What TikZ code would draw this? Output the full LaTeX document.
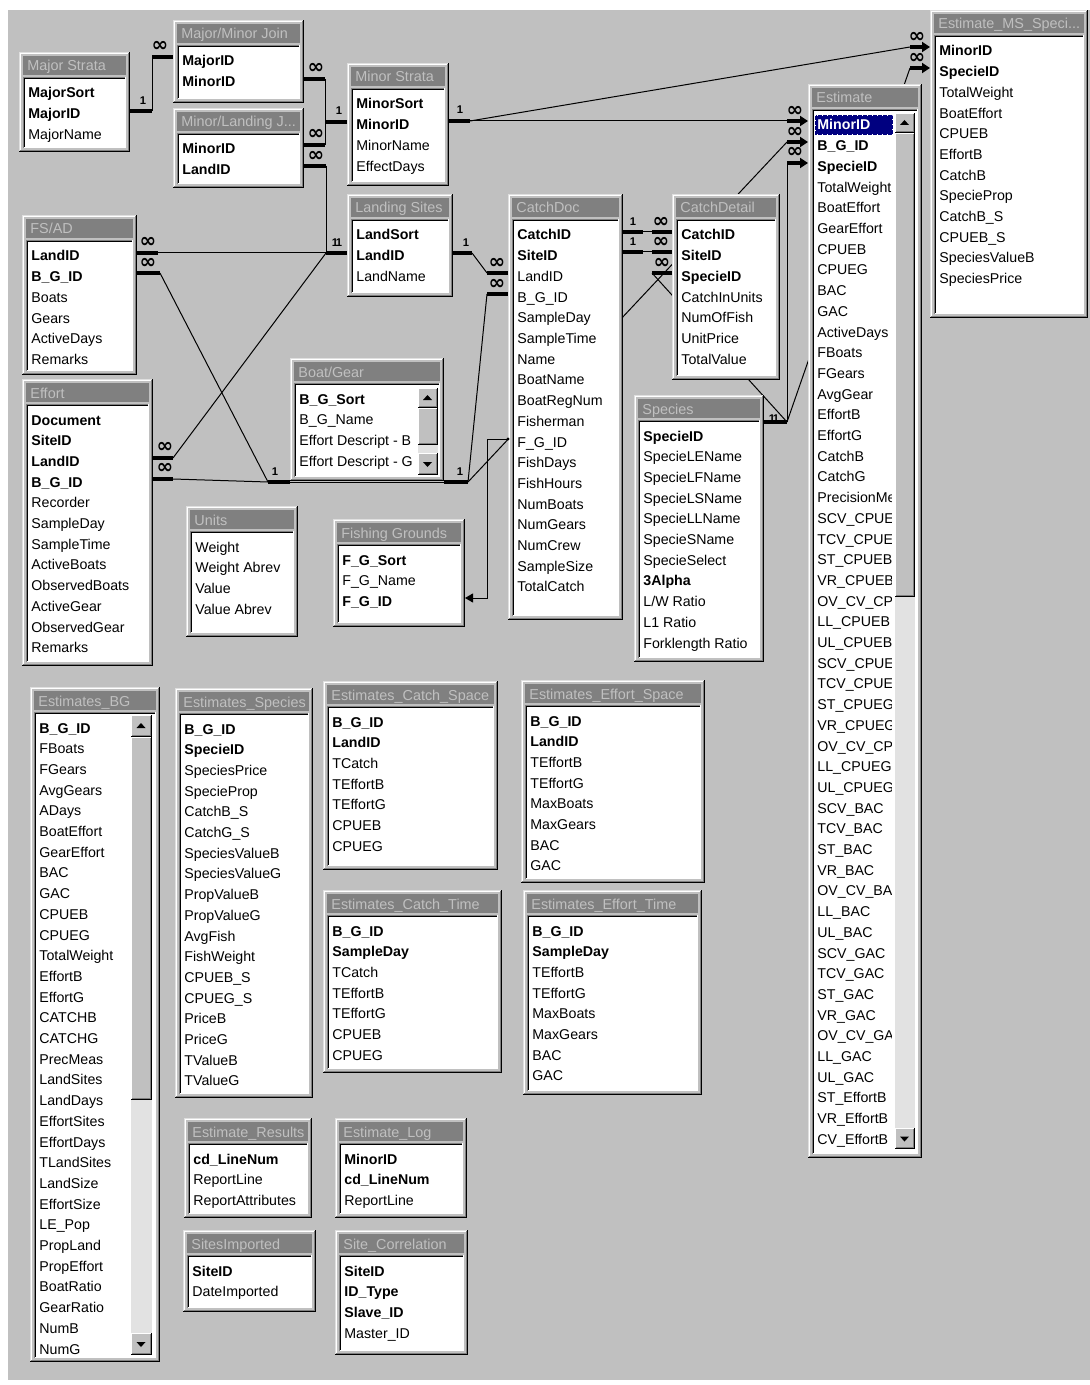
\documentclass[tikz,border=0pt]{standalone}
\usepackage{fontspec}
\setmainfont{Liberation Sans}
\newfontfamily\symfont{DejaVu Sans}
\usetikzlibrary{arrows.meta}
\definecolor{bggray}{RGB}{192,192,192}
\definecolor{wdark}{RGB}{128,128,128}
\definecolor{wlight}{RGB}{223,223,223}
\definecolor{selnavy}{RGB}{0,0,128}
\definecolor{trackgray}{RGB}{226,226,226}
\tikzset{
  field/.style={anchor=base west, inner sep=0pt, font=\fontsize{7.1}{8}\selectfont},
  wtitle/.style={anchor=base west, inner sep=0pt, text=bggray, font=\fontsize{7.2}{8}\selectfont},
  conn/.style={line width=0.5pt},
  stub/.style={line width=1.8pt},
  arr/.style={line width=1.8pt, -{Triangle[length=4pt,width=5pt]}},
  one/.style={font=\fontsize{5.6}{6}\selectfont\bfseries, inner sep=0pt},
  many/.style={font=\symfont\fontsize{10}{10}\selectfont\bfseries, inner sep=0pt},
}
% window frame: name, x1, y1, x2, y2, title
\newcommand\accwin[6]{%
  \fill[bggray] (#2,#3) rectangle (#4,#5);
  \draw[wlight,line width=0.5pt] (#2+0.5,#5-1) -- (#2+0.5,#3+0.5) -- (#4-1,#3+0.5);
  \draw[white,line width=0.5pt] (#2+1.5,#5-2) -- (#2+1.5,#3+1.5) -- (#4-2,#3+1.5);
  \draw[black,line width=0.5pt] (#2,#5-0.5) -- (#4-0.5,#5-0.5) -- (#4-0.5,#3);
  \draw[wdark,line width=0.5pt] (#2+1,#5-1.5) -- (#4-1.5,#5-1.5) -- (#4-1.5,#3+1);
  \fill[wdark] (#2+4,#3+4) rectangle (#4-4,#3+23);
  \node[wtitle] (#1-title) at (#2+8,#3+19) {#6};
  \fill[white] (#2+4,#3+25) rectangle (#4-4,#5-4);
  \draw[wdark,line width=0.5pt] (#2+4.5,#5-4) -- (#2+4.5,#3+25.5) -- (#4-4,#3+25.5);
  \draw[black,line width=0.5pt] (#2+5.5,#5-5) -- (#2+5.5,#3+26.5) -- (#4-5,#3+26.5);
  \draw[white,line width=0.5pt] (#2+4.5,#5-4.5) -- (#4-4.5,#5-4.5) -- (#4-4.5,#3+25);
}
% field rows: name, x1, y1, clip x, clip y, list
\newcommand\accfields[6]{%
  \begin{scope}
    \clip (#2+6,#3+27) rectangle (#4,#5);
    \foreach \fld [count=\rowi] in {#6} {\node[field] (#1-\rowi) at ({#2+9},{#3+46+(\rowi-1)*20.7}) {\fld};}
  \end{scope}}
\newcommand\acctable[8]{\accwin{#1}{#2}{#3}{#4}{#5}{#6}\accfields{#1}{#2}{#3}{#7}{#5-6}{#8}}
% raised button: x1 y1 x2 y2
\newcommand\accbtn[4]{%
  \fill[bggray] (#1,#2) rectangle (#3,#4);
  \draw[white,line width=0.5pt] (#1+0.5,#4-1) -- (#1+0.5,#2+0.5) -- (#3-1,#2+0.5);
  \draw[black,line width=0.5pt] (#1,#4-0.5) -- (#3-0.5,#4-0.5) -- (#3-0.5,#2);
  \draw[wdark,line width=0.5pt] (#1+1,#4-1.5) -- (#3-1.5,#4-1.5) -- (#3-1.5,#2+1);
}
% scrollbar: x1 x2 ytop upbot thumbbot downtop ybot
\newcommand\accscroll[7]{%
  \fill[trackgray] (#1,#3) rectangle (#2,#7);
  \accbtn{#1}{#3}{#2}{#4}
  \fill[black] ({(#1+#2)/2-0.5},{(#3+#4)/2-3}) -- ({(#1+#2)/2-5},{(#3+#4)/2+2}) -- ({(#1+#2)/2+4},{(#3+#4)/2+2}) -- cycle;
  \accbtn{#1}{#4}{#2}{#5}
  \accbtn{#1}{#6}{#2}{#7}
  \fill[black] ({(#1+#2)/2-0.5},{(#6+#7)/2+3}) -- ({(#1+#2)/2-5},{(#6+#7)/2-2}) -- ({(#1+#2)/2+4},{(#6+#7)/2-2}) -- cycle;
}
\begin{document}
\begin{tikzpicture}[x=0.5pt,y=-0.5pt]
\useasboundingbox (0,0) rectangle (1090,1385);
\fill[white] (0,0) rectangle (1090,1385);
\fill[bggray] (8,10) rectangle (1090,1380);

% ---------- connector end points ----------
\coordinate (p-ms-majorid) at (130,111);
\coordinate (q-ms) at (152,111);
\coordinate (q-mmj-a) at (152,57);
\coordinate (p-mmj-majorid) at (173,57);
\coordinate (p-mmj-minorid) at (304,79);
\coordinate (q-mmj-b) at (325,79);
\coordinate (p-mlj-minorid) at (304,145);
\coordinate (q-mlj-a) at (325,145);
\coordinate (q-mis-l) at (325,122);
\coordinate (p-mis-minorid-l) at (347,122);
\coordinate (p-mlj-landid) at (304,166);
\coordinate (q-mlj-b) at (326,166);
\coordinate (q-ls-l) at (326,253);
\coordinate (p-ls-landid-l) at (347,253);
\coordinate (p-fsad-landid) at (137,253);
\coordinate (q-fsad-a) at (158,253);
\coordinate (p-fsad-bgid) at (137,273);
\coordinate (q-fsad-b) at (160,273);
\coordinate (p-eff-landid) at (153,458);
\coordinate (q-eff-a) at (173,458);
\coordinate (p-eff-bgid) at (153,479);
\coordinate (q-eff-b) at (173,479);
\coordinate (q-bg-l) at (268,482);
\coordinate (p-bg-l) at (290,482);
\coordinate (p-bg-r) at (444,482);
\coordinate (q-bg-r) at (468,482);
\coordinate (q-cd-bgid) at (487,294);
\coordinate (p-cd-bgid) at (508,294);
\coordinate (p-ls-landid-r) at (453,253);
\coordinate (q-ls-r) at (472,253);
\coordinate (q-cd-landid) at (487,273);
\coordinate (p-cd-landid) at (508,273);
\coordinate (p-cd-catchid) at (623,232);
\coordinate (q-cd-catchid) at (643,232);
\coordinate (q-cdt-catchid) at (652,232);
\coordinate (p-cdt-catchid) at (672,232);
\coordinate (p-cd-siteid) at (623,252);
\coordinate (q-cd-siteid) at (643,252);
\coordinate (q-cdt-siteid) at (652,252);
\coordinate (p-cdt-siteid) at (672,252);
\coordinate (p-cdt-specieid) at (672,273);
\coordinate (q-cdt-specieid) at (652,273);
\coordinate (p-sp-specieid) at (764,422);
\coordinate (q-sp) at (787,422);
\coordinate (q-est-minorid) at (787,121);
\coordinate (p-est-minorid) at (808,121);
\coordinate (q-est-bgid) at (787,142);
\coordinate (p-est-bgid) at (808,142);
\coordinate (q-est-specieid) at (787,163);
\coordinate (p-est-specieid) at (808,163);
\coordinate (p-mis-minorid-r) at (449,121);
\coordinate (q-mis-r) at (470,121);
\coordinate (q-ems-minorid) at (910,47);
\coordinate (p-ems-minorid) at (930,47);
\coordinate (q-ems-specieid) at (910,68);
\coordinate (p-ems-specieid) at (930,68);
\coordinate (p-cd-fgid) at (508,439);
\coordinate (q-fg-a) at (487,439);
\coordinate (q-fg-b) at (487,598);
\coordinate (p-fg-fgid) at (465,598);

% ---------- thin connector lines (behind windows) ----------
\draw[conn] (q-ms) -- (q-mmj-a);
\draw[conn] (q-mmj-b) -- (q-mis-l);
\draw[conn] (q-mlj-a) -- (q-mis-l);
\draw[conn] (q-mlj-b) -- (q-ls-l);
\draw[conn] (q-fsad-a) -- (q-ls-l);
\draw[conn] (q-eff-a) -- (q-ls-l);
\draw[conn] (q-fsad-b) -- (q-bg-l);
\draw[conn] (q-eff-b) -- (q-bg-l);
\draw[conn] (p-bg-l) -- (p-bg-r);
\draw[conn] (q-bg-r) -- (q-cd-bgid);
\draw[conn] (q-bg-r) -- (q-est-bgid);
\draw[conn] (q-ls-r) -- (q-cd-landid);
\draw[conn] (q-cd-catchid) -- (q-cdt-catchid);
\draw[conn] (q-cd-siteid) -- (q-cdt-siteid);
\draw[conn] (q-cdt-specieid) -- (q-sp);
\draw[conn] (q-sp) -- (q-est-specieid);
\draw[conn] (q-sp) -- (q-ems-specieid);
\draw[conn] (q-mis-r) -- (q-est-minorid);
\draw[conn] (q-mis-r) -- (q-ems-minorid);

% ---------- tables ----------
\acctable{ms}{19}{52}{130}{152}{Major Strata}{125}{\textbf{MajorSort},\textbf{MajorID},MajorName}
\acctable{mmj}{173}{20}{304}{103}{Major/Minor Join}{298}{\textbf{MajorID},\textbf{MinorID}}
\acctable{mlj}{173}{108}{304}{188}{Minor/Landing J...}{298}{\textbf{MinorID},\textbf{LandID}}
\acctable{mis}{347}{63}{449}{186}{Minor Strata}{443}{\textbf{MinorSort},\textbf{MinorID},MinorName,EffectDays}
\acctable{ls}{347}{194}{453}{297}{Landing Sites}{447}{\textbf{LandSort},\textbf{LandID},LandName}
\acctable{fsad}{22}{215}{137}{375}{FS/AD}{131}{\textbf{LandID},\textbf{B\_G\_ID},Boats,Gears,ActiveDays,Remarks}
\acctable{eff}{22}{379}{153}{666}{Effort}{147}{\textbf{Document},\textbf{SiteID},\textbf{LandID},\textbf{B\_G\_ID},Recorder,SampleDay,SampleTime,ActiveBoats,ObservedBoats,ActiveGear,ObservedGear,Remarks}
\acctable{bg}{290}{358}{444}{481}{Boat/Gear}{414}{\textbf{B\_G\_Sort},B\_G\_Name,Effort Descript - B,Effort Descript - G}
\accscroll{418}{438}{388}{408}{445}{453}{475}
\acctable{units}{186}{506}{298}{637}{Units}{292}{Weight,Weight Abrev,Value,Value Abrev}
\acctable{fg}{333}{519}{465}{627}{Fishing Grounds}{459}{\textbf{F\_G\_Sort},F\_G\_Name,\textbf{F\_G\_ID}}
\acctable{cd}{508}{194}{623}{620}{CatchDoc}{617}{\textbf{CatchID},\textbf{SiteID},LandID,B\_G\_ID,SampleDay,SampleTime,Name,BoatName,BoatRegNum,Fisherman,F\_G\_ID,FishDays,FishHours,NumBoats,NumGears,NumCrew,SampleSize,TotalCatch}
\acctable{cdt}{672}{194}{780}{380}{CatchDetail}{774}{\textbf{CatchID},\textbf{SiteID},\textbf{SpecieID},CatchInUnits,NumOfFish,UnitPrice,TotalValue}
\acctable{sp}{634}{395}{764}{662}{Species}{758}{\textbf{SpecieID},SpecieLEName,SpecieLFName,SpecieLSName,SpecieLLName,SpecieSName,SpecieSelect,\textbf{3Alpha},L/W Ratio,L1 Ratio,Forklength Ratio}
\accwin{est}{808}{84}{922}{1158}{Estimate}
\fill[selnavy] (815,115) rectangle (893,135);
\draw[white,dotted,line width=0.5pt] (815.5,115.5) rectangle (892.5,134.5);
\accfields{est}{808}{84}{891}{1152}{\textcolor{white}{\textbf{MinorID}},\textbf{B\_G\_ID},\textbf{SpecieID},TotalWeight,BoatEffort,GearEffort,CPUEB,CPUEG,BAC,GAC,ActiveDays,FBoats,FGears,AvgGear,EffortB,EffortG,CatchB,CatchG,PrecisionMeas,SCV\_CPUEB,TCV\_CPUEB,ST\_CPUEB,VR\_CPUEB,OV\_CV\_CPUEB,LL\_CPUEB,UL\_CPUEB,SCV\_CPUEG,TCV\_CPUEG,ST\_CPUEG,VR\_CPUEG,OV\_CV\_CPUEG,LL\_CPUEG,UL\_CPUEG,SCV\_BAC,TCV\_BAC,ST\_BAC,VR\_BAC,OV\_CV\_BAC,LL\_BAC,UL\_BAC,SCV\_GAC,TCV\_GAC,ST\_GAC,VR\_GAC,OV\_CV\_GAC,LL\_GAC,UL\_GAC,ST\_EffortB,VR\_EffortB,CV\_EffortB}
\accscroll{895}{915}{113}{133}{597}{1128}{1149}
\acctable{ems}{930}{10}{1088}{318}{Estimate\_MS\_Speci...}{1082}{\textbf{MinorID},\textbf{SpecieID},TotalWeight,BoatEffort,CPUEB,EffortB,CatchB,SpecieProp,CatchB\_S,CPUEB\_S,SpeciesValueB,SpeciesPrice}
\acctable{ebg}{30}{687}{160}{1362}{Estimates\_BG}{130}{\textbf{B\_G\_ID},FBoats,FGears,AvgGears,ADays,BoatEffort,GearEffort,BAC,GAC,CPUEB,CPUEG,TotalWeight,EffortB,EffortG,CATCHB,CATCHG,PrecMeas,LandSites,LandDays,EffortSites,EffortDays,TLandSites,LandSize,EffortSize,LE\_Pop,PropLand,PropEffort,BoatRatio,GearRatio,NumB,NumG}
\accscroll{131}{152}{715}{737}{1100}{1333}{1355}
\acctable{esp}{175}{688}{313}{1098}{Estimates\_Species}{307}{\textbf{B\_G\_ID},\textbf{SpecieID},SpeciesPrice,SpecieProp,CatchB\_S,CatchG\_S,SpeciesValueB,SpeciesValueG,PropValueB,PropValueG,AvgFish,FishWeight,CPUEB\_S,CPUEG\_S,PriceB,PriceG,TValueB,TValueG}
\acctable{ecs}{323}{681}{498}{870}{Estimates\_Catch\_Space}{492}{\textbf{B\_G\_ID},\textbf{LandID},TCatch,TEffortB,TEffortG,CPUEB,CPUEG}
\acctable{ees}{521}{680}{705}{883}{Estimates\_Effort\_Space}{699}{\textbf{B\_G\_ID},\textbf{LandID},TEffortB,TEffortG,MaxBoats,MaxGears,BAC,GAC}
\acctable{ect}{323}{890}{502}{1073}{Estimates\_Catch\_Time}{496}{\textbf{B\_G\_ID},\textbf{SampleDay},TCatch,TEffortB,TEffortG,CPUEB,CPUEG}
\acctable{eet}{523}{890}{702}{1095}{Estimates\_Effort\_Time}{696}{\textbf{B\_G\_ID},\textbf{SampleDay},TEffortB,TEffortG,MaxBoats,MaxGears,BAC,GAC}
\acctable{eres}{184}{1118}{312}{1218}{Estimate\_Results}{306}{\textbf{cd\_LineNum},ReportLine,ReportAttributes}
\acctable{elog}{335}{1118}{467}{1218}{Estimate\_Log}{461}{\textbf{MinorID},\textbf{cd\_LineNum},ReportLine}
\acctable{si}{183}{1230}{316}{1312}{SitesImported}{310}{\textbf{SiteID},DateImported}
\acctable{sc}{335}{1230}{468}{1355}{Site\_Correlation}{462}{\textbf{SiteID},\textbf{ID\_Type},\textbf{Slave\_ID},Master\_ID}

% ---------- thick stubs and arrows ----------
\draw[stub] (p-ms-majorid) -- (q-ms);
\draw[stub] (q-mmj-a) -- (p-mmj-majorid);
\draw[stub] (p-mmj-minorid) -- (q-mmj-b);
\draw[stub] (p-mlj-minorid) -- (q-mlj-a);
\draw[stub] (q-mis-l) -- (p-mis-minorid-l);
\draw[stub] (p-mlj-landid) -- (q-mlj-b);
\draw[stub] (q-ls-l) -- (p-ls-landid-l);
\draw[stub] (p-fsad-landid) -- (q-fsad-a);
\draw[stub] (p-fsad-bgid) -- (q-fsad-b);
\draw[stub] (p-eff-landid) -- (q-eff-a);
\draw[stub] (p-eff-bgid) -- (q-eff-b);
\draw[stub] (q-bg-l) -- (p-bg-l);
\draw[stub] (p-bg-r) -- (q-bg-r);
\draw[stub] (q-cd-bgid) -- (p-cd-bgid);
\draw[stub] (p-ls-landid-r) -- (q-ls-r);
\draw[stub] (q-cd-landid) -- (p-cd-landid);
\draw[stub] (p-cd-catchid) -- (q-cd-catchid);
\draw[stub] (q-cdt-catchid) -- (p-cdt-catchid);
\draw[stub] (p-cd-siteid) -- (q-cd-siteid);
\draw[stub] (q-cdt-siteid) -- (p-cdt-siteid);
\draw[stub] (p-cdt-specieid) -- (q-cdt-specieid);
\draw[stub] (p-sp-specieid) -- (q-sp);
\draw[stub] (p-mis-minorid-r) -- (q-mis-r);
\draw[arr] (q-est-minorid) -- (p-est-minorid);
\draw[arr] (q-est-bgid) -- (p-est-bgid);
\draw[arr] (q-est-specieid) -- (p-est-specieid);
\draw[arr] (q-ems-minorid) -- (p-ems-minorid);
\draw[arr] (q-ems-specieid) -- (p-ems-specieid);
\fill (p-cd-fgid) circle (1.6);
\draw[conn,-{Triangle[length=4pt,width=4.5pt]}] (p-cd-fgid) -- (q-fg-a) -- (q-fg-b) -- (p-fg-fgid);

% ---------- cardinality labels ----------
\node[one] (lab1) at (143,101) {1};
\node[many] (lab2) at (160,46) {∞};
\node[many] (lab3) at (316,68) {∞};
\node[many] (lab4) at (316,134) {∞};
\node[many] (lab5) at (316,156) {∞};
\node[one] (lab6) at (339,111) {1};
\node[one] (lab7) at (335,243) {1};
\node[one] (lab8) at (339,243) {1};
\node[many] (lab9) at (148,242) {∞};
\node[many] (lab10) at (148,263) {∞};
\node[many] (lab11) at (165,447) {∞};
\node[many] (lab12) at (165,468) {∞};
\node[one] (lab13) at (275,472) {1};
\node[one] (lab14) at (460,472) {1};
\node[many] (lab15) at (497,284) {∞};
\node[many] (lab16) at (497,263) {∞};
\node[one] (lab17) at (466,243) {1};
\node[one] (lab18) at (633,222) {1};
\node[many] (lab19) at (661,222) {∞};
\node[one] (lab20) at (633,242) {1};
\node[many] (lab21) at (661,242) {∞};
\node[many] (lab22) at (662,263) {∞};
\node[one] (lab23) at (772,419) {1};
\node[one] (lab24) at (776,419) {1};
\node[one] (lab25) at (460,110) {1};
\node[many] (lab26) at (795,111) {∞};
\node[many] (lab27) at (795,132) {∞};
\node[many] (lab28) at (795,152) {∞};
\node[many] (lab29) at (917,37) {∞};
\node[many] (lab30) at (917,58) {∞};
\end{tikzpicture}
\end{document}
